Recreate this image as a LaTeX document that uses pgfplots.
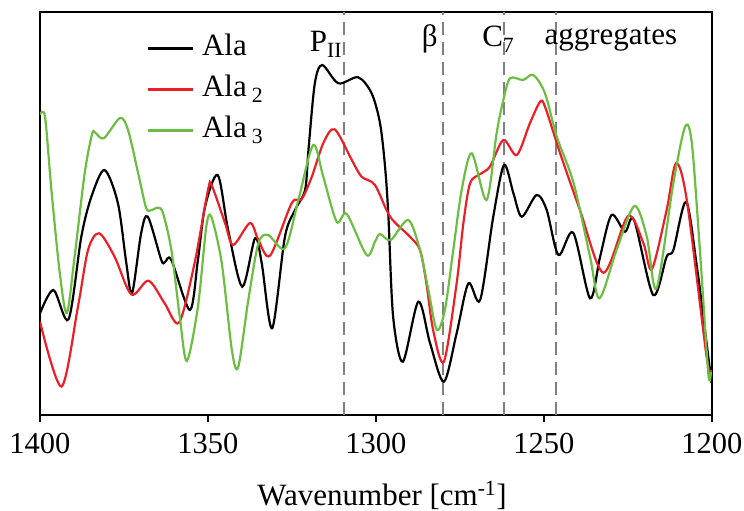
\documentclass[border=0pt]{standalone}
\usepackage{pgfplots}
\pgfplotsset{compat=1.18}
\usepackage{fontspec}
\setmainfont{Liberation Serif}
\definecolor{cred}{RGB}{235,32,38}
\definecolor{cgreen}{RGB}{108,190,66}
\definecolor{cgray}{RGB}{128,128,128}
\newcommand\fs{\fontsize{31}{35}\selectfont}
\begin{document}
\begin{tikzpicture}
\path[use as bounding box] (-40pt,-96pt) rectangle (704pt,415pt);
\begin{axis}[
  at={(0pt,0pt)}, anchor=south west,
  scale only axis, width=672pt, height=403pt,
  xmin=1200, xmax=1400, x dir=reverse, ymin=1, ymax=404,
  xtick={1200,1250,...,1400}, ytick=\empty,
  xtick pos=bottom, tick align=outside, major tick length=7pt,
  axis line style={line width=1.5pt},
  every tick/.style={line width=1.3pt, black},
  /pgf/number format/assume math mode=true,
  /pgf/number format/1000 sep={},
  xticklabel style={font=\fontsize{30.5}{34}\selectfont, yshift=-8pt},
  xlabel={Wavenumber [cm\textsuperscript{-1}]},
  xlabel style={font=\fs, at={(axis description cs:0.5,0)}, anchor=base, yshift=-90pt, xshift=6pt},
  legend style={at={(axis description cs:0.159,0.943)}, anchor=north west, draw=none, fill=none,
    inner sep=0pt, outer sep=0pt, font=\fs, column sep=8pt, row sep=20pt,
    nodes={inner sep=0pt, text height=21pt, text depth=0pt}},
  legend cell align=left,
  legend image code/.code={\draw[#1] (0pt,-3pt)--(45pt,-3pt);},
  clip=true,
]
\addplot[cgray, line width=1.9pt, dash pattern=on 13pt off 7pt, forget plot] coordinates {(1309.5,1) (1309.5,404)};
\addplot[cgray, line width=1.9pt, dash pattern=on 13pt off 7pt, forget plot] coordinates {(1280,1) (1280,404)};
\addplot[cgray, line width=1.9pt, dash pattern=on 13pt off 7pt, forget plot] coordinates {(1262,1) (1262,404)};
\addplot[cgray, line width=1.9pt, dash pattern=on 13pt off 7pt, forget plot] coordinates {(1246.5,1) (1246.5,404)};

\addplot[black, line width=2.2pt, smooth, tension=0.5] coordinates {
(1400,102.7) (1396.0,126) (1391.5,96.7) (1387.7,179.3) (1384.7,219.3) (1380.8,246)
(1376.8,212.7) (1374.3,152.7) (1372.6,122.7) (1369.9,182.7) (1367.9,199.3) (1363.9,156)
(1362.8,154) (1360.9,156) (1355.4,106) (1353.0,156) (1350.9,209) (1347.1,241)
(1344.0,186) (1339.8,129.3) (1336.0,177.7) (1334.0,152.7) (1330.9,87.7) (1327.1,179.3)
(1324.1,206) (1321.1,226) (1320.1,266) (1318.2,332.7) (1316.0,351) (1311.2,332.7)
(1305.3,338.7) (1301.3,322.7) (1298.8,292.7) (1297.3,249.3) (1296.3,199.3) (1294.9,99.3)
(1292.0,54.3) (1287.4,114.3) (1283.9,72.7) (1279.8,34.3) (1276.0,82.7) (1272.5,132.7)
(1269.0,116) (1265.1,199.3) (1261.9,251) (1259.1,222.7) (1256.6,199.3) (1252.2,221)
(1249.2,206) (1245.7,161) (1241.3,183.3) (1236.3,117.7) (1233.3,159.3) (1229.9,201)
(1225.9,184.3) (1223.2,196) (1217.5,121) (1213.5,159.3) (1211.5,166) (1207.7,214.3)
(1204.5,149.3) (1202.1,86) (1200.1,32.7)};
\addlegendentry{Ala}

\addplot[cred, line width=2.2pt, smooth, tension=0.5] coordinates {
(1400,94.3) (1393.6,29.5) (1388.7,109.3) (1385.7,166) (1382.4,182.7) (1377.8,159.3)
(1372.8,121.5) (1367.7,135.3) (1362.9,112.7) (1358.6,93.5) (1354.0,152.7) (1350.0,226)
(1348.9,230.5) (1344.9,192.7) (1342.5,171) (1337.5,193) (1335.0,176) (1331.5,160.5)
(1325.1,212.7) (1322.1,217) (1319.1,239.3) (1315.7,272.7) (1312.3,286.7) (1307.2,256)
(1304.3,239.3) (1300.3,231) (1295.8,199.3) (1289.9,179.3) (1286.9,166) (1285.0,132.7)
(1283.0,86) (1279.8,54.3) (1276.0,132.7) (1274.0,192.7) (1272.0,232.7) (1269.0,242)
(1266.1,249.3) (1262.1,276) (1258.1,261) (1254.2,292.7) (1251.2,314) (1249.7,309.3)
(1245.2,262.7) (1239.3,206) (1232.3,143.3) (1225.0,200) (1220.4,172.7) (1217.9,146.7)
(1213.5,206) (1210.7,252.7) (1207.5,216) (1201.6,59.3) (1200.2,46)};
\addlegendentry{Ala\,\textsubscript{2}}

\addplot[cgreen, line width=2.2pt, smooth, tension=0.5] coordinates {
(1400,301.5) (1398.5,299) (1396.6,226) (1394.1,142.7) (1392.0,103) (1389.7,159.3)
(1386.7,242.7) (1384.5,282) (1383.6,283.5) (1381.0,277.7) (1376.2,298) (1373.8,286)
(1370.8,243) (1368.4,208) (1366.8,206) (1364.9,208.3) (1363.4,203) (1360.9,166)
(1358.4,99.3) (1356.3,55) (1353.0,109.3) (1350.5,189.3) (1349.0,199) (1345.9,152.7)
(1342.9,66) (1341.0,49) (1338.0,116) (1335.0,172.7) (1332.1,181) (1327.1,167.7)
(1323.1,216) (1318.7,271) (1315.7,239.3) (1311.7,194.3) (1308.7,202) (1302.8,161)
(1300.3,174.3) (1298.8,182) (1295.6,176) (1290.4,196) (1286.9,166) (1284.4,126)
(1281.9,86) (1279.5,106) (1277.0,166) (1274.5,226) (1271.5,262.7) (1267.1,216)
(1264.1,282.7) (1262.1,316) (1260.1,337.7) (1256.2,336) (1253.2,341) (1249.7,322.7)
(1246.2,279.3) (1241.2,233) (1236.3,159.3) (1233.5,117.7) (1228.4,166) (1223.1,210)
(1219.4,179.3) (1216.5,127.7) (1211.5,232.7) (1208.0,289.3) (1206.0,272.7) (1203.6,166)
(1201.1,42.7) (1200.3,44)};
\addlegendentry{Ala\,\textsubscript{3}}

\node[font=\fs, anchor=base] at (axis cs:1314.9,364) {P\textsubscript{II}};
\node[font=\fs, anchor=base] at (axis cs:1284.0,369) {β};
\node[font=\fs, anchor=base] at (axis cs:1263.6,369) {C\textsubscript{7}};
\node[font=\fs, anchor=base] at (axis cs:1230.1,371) {aggregates};
\end{axis}
\end{tikzpicture}
\end{document}
